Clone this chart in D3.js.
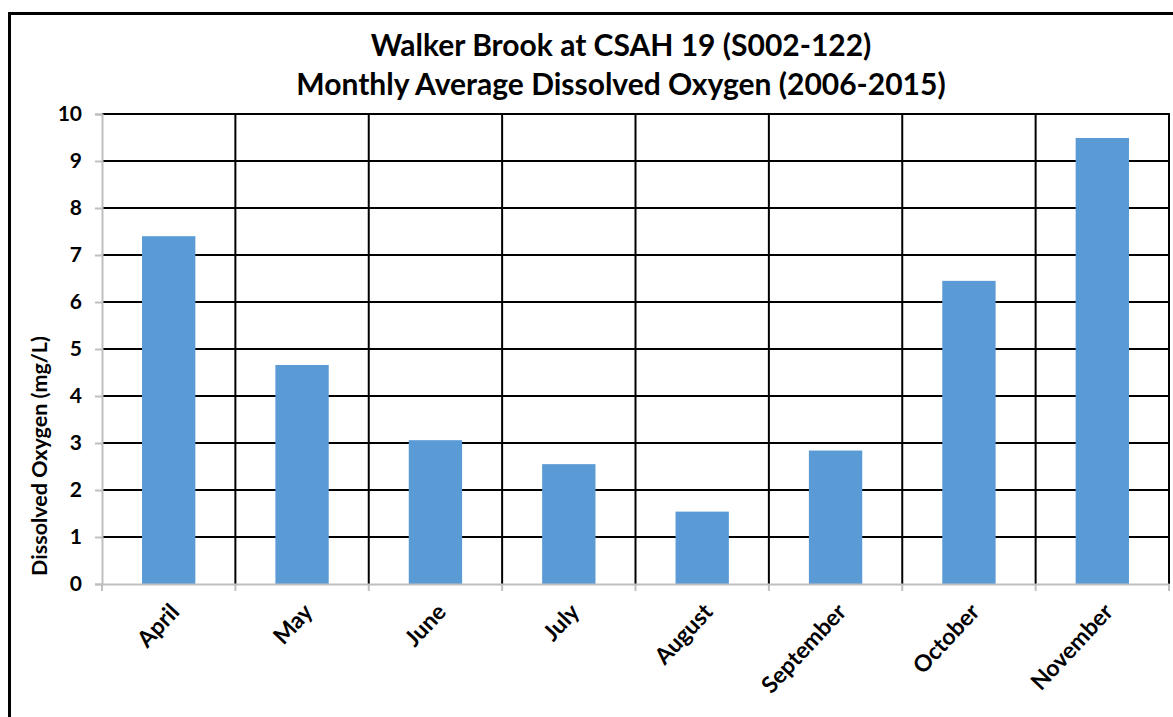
<!DOCTYPE html>
<html><head><meta charset="utf-8">
<script src="https://cdn.jsdelivr.net/npm/d3@7"></script>
<style>body{margin:0;background:#fff}svg{display:block}</style>
</head><body>
<script>
const months = ["April","May","June","July","August","September","October","November"];
const dissolvedOxygen = [7.40, 4.66, 3.06, 2.55, 1.54, 2.84, 6.45, 9.49];
const yTicks = [0,1,2,3,4,5,6,7,8,9,10];
const titleLines = ["Walker Brook at CSAH 19 (S002-122)", "Monthly Average Dissolved Oxygen (2006-2015)"];
const yLabel = "Dissolved Oxygen (mg/L)";

(function () {
const W = 1173, H = 717;
const font = "Lato, 'Open Sans', sans-serif";
const svg = d3.select("body").append("svg").attr("width", W).attr("height", H);
svg.append("rect").attr("width", W).attr("height", H).attr("fill", "#fff");

svg.append("rect").attr("x", 9.5).attr("y", 13.5).attr("width", 1200).attr("height", 760)
  .attr("fill", "none").attr("stroke", "#000").attr("stroke-width", 3);

const pL = 102, pR = 1169, pT = 114, pB = 584;
const x = d3.scaleBand().domain(months).range([pL, pR]).paddingInner(0.6).paddingOuter(0.3);
const xb = d3.scaleBand().domain(months).range([pL, pR]);
const y = d3.scaleLinear().domain([0, 10]).range([pB, pT]);

svg.append("g").selectAll("line").data(yTicks.filter(t => t > 0)).join("line")
  .attr("x1", pL).attr("x2", pR).attr("y1", d => y(d)).attr("y2", d => y(d))
  .attr("stroke", "#000").attr("stroke-width", 2);
svg.append("g").selectAll("line").data(months).join("line")
  .attr("x1", d => xb(d) + xb.bandwidth()).attr("x2", d => xb(d) + xb.bandwidth())
  .attr("y1", pT - 1).attr("y2", pB)
  .attr("stroke", "#000").attr("stroke-width", 2);

svg.append("g").selectAll("rect").data(months).join("rect")
  .attr("x", d => x(d)).attr("width", x.bandwidth())
  .attr("y", (d, i) => y(dissolvedOxygen[i]))
  .attr("height", (d, i) => pB - y(dissolvedOxygen[i]))
  .attr("fill", "#5b9bd5");

const yAxis = svg.append("g").attr("transform", `translate(${pL},0)`)
  .call(d3.axisLeft(y).tickValues(yTicks).tickSize(7).tickPadding(13).tickFormat(d3.format("d")));
yAxis.select(".domain").attr("stroke", "#bfbfbf").attr("stroke-width", 2);
yAxis.selectAll(".tick line").attr("stroke", "#bfbfbf").attr("stroke-width", 2);
yAxis.selectAll(".tick text").attr("font-family", font).attr("font-weight", 700)
  .attr("font-size", 21).attr("fill", "#000");

const xAxis = svg.append("g").attr("transform", `translate(0,${pB})`)
  .call(d3.axisBottom(xb).tickSize(0).tickFormat(() => ""));
xAxis.select(".domain").attr("stroke", "#bfbfbf").attr("stroke-width", 2);
svg.append("g").selectAll("line").data([null, ...months]).join("line")
  .attr("x1", d => d === null ? pL : xb(d) + xb.bandwidth())
  .attr("x2", d => d === null ? pL : xb(d) + xb.bandwidth())
  .attr("y1", pB).attr("y2", pB + 7)
  .attr("stroke", "#bfbfbf").attr("stroke-width", 2);

svg.append("g").selectAll("text").data(months).join("text")
  .attr("transform", d => `translate(${xb(d) + xb.bandwidth() / 2 + 12},${pB + 29}) rotate(-47)`)
  .attr("text-anchor", "end").attr("font-family", font).attr("font-weight", 700)
  .attr("font-size", 23).attr("fill", "#000").text(d => d);

svg.append("text").attr("transform", `translate(47,456) rotate(-90)`)
  .attr("text-anchor", "middle").attr("font-family", font).attr("font-weight", 700)
  .attr("font-size", 21.5).attr("fill", "#000").text(yLabel);

svg.append("g").selectAll("text").data(titleLines).join("text")
  .attr("x", 621).attr("y", (d, i) => 56 + i * 39)
  .attr("text-anchor", "middle").attr("font-family", font).attr("font-weight", 700)
  .attr("font-size", 30).attr("fill", "#000").text(d => d);
})();
</script>
</body></html>
